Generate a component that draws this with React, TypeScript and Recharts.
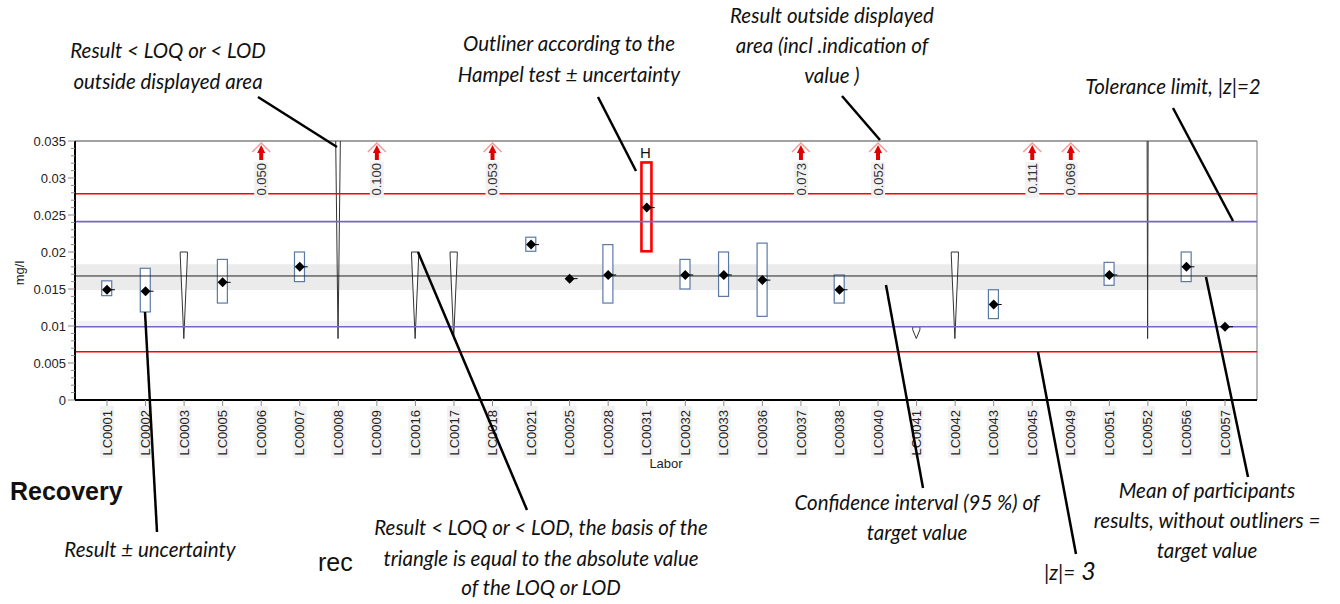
import React from 'react';
import {
  ComposedChart,
  XAxis,
  YAxis,
  Bar,
  Scatter,
  ReferenceLine,
  ReferenceArea,
} from 'recharts';

// ---------- data ----------
const categories = [
  'LC0001', 'LC0002', 'LC0003', 'LC0005', 'LC0006', 'LC0007', 'LC0008', 'LC0009',
  'LC0016', 'LC0017', 'LC0018', 'LC0021', 'LC0025', 'LC0028', 'LC0031', 'LC0032',
  'LC0033', 'LC0036', 'LC0037', 'LC0038', 'LC0040', 'LC0041', 'LC0042', 'LC0043',
  'LC0045', 'LC0049', 'LC0051', 'LC0052', 'LC0056', 'LC0057',
];

// results (diamonds) with uncertainty (boxes)
const resultLabs = [
  'LC0001', 'LC0002', 'LC0005', 'LC0007', 'LC0021', 'LC0025', 'LC0028', 'LC0031',
  'LC0032', 'LC0033', 'LC0036', 'LC0038', 'LC0043', 'LC0051', 'LC0056', 'LC0057',
];
const resultValues = [
  0.0149, 0.0147, 0.0159, 0.0180, 0.0210, 0.0164, 0.0169, 0.0260,
  0.0169, 0.0169, 0.0162, 0.0149, 0.0129, 0.0169, 0.0180, 0.0099,
];
const uncertaintyLow = [
  0.0141, 0.0119, 0.0131, 0.0160, 0.0201, null, 0.0131, 0.0201,
  0.0150, 0.0140, 0.0113, 0.0131, 0.0110, 0.0155, 0.0160, null,
];
const uncertaintyHigh = [
  0.0161, 0.0178, 0.0190, 0.0200, 0.0220, null, 0.0210, 0.0321,
  0.0190, 0.0200, 0.0212, 0.0169, 0.0149, 0.0186, 0.0200, null,
];
const outlierLabs = ['LC0031'];

// results < LOQ / LOD (triangles)
const loqLabs = ['LC0003', 'LC0008', 'LC0016', 'LC0017', 'LC0041', 'LC0042', 'LC0052'];
const loqValues = [0.0200, 0.0500, 0.0200, 0.0200, 0.0099, 0.0200, 0.2000];
const LOQ_TIP = 0.0083;

// results outside displayed area (arrows)
const overLabs = ['LC0006', 'LC0009', 'LC0018', 'LC0037', 'LC0040', 'LC0045', 'LC0049'];
const overValues = [0.050, 0.100, 0.053, 0.073, 0.052, 0.111, 0.069];

// target value and limits
const TARGET = 0.01676;
const CI_LOW = 0.01486;
const CI_HIGH = 0.01834;
const TOL_LOW = 0.0099;
const TOL_HIGH = 0.0241;
const Z3_LOW = 0.00653;
const Z3_HIGH = 0.02788;

// axis
const Y_MAX = 0.035;
const yMajorTicks = [0, 0.005, 0.01, 0.015, 0.02, 0.025, 0.03, 0.035];
const yMajorLabels = ['0', '0.005', '0.01', '0.015', '0.02', '0.025', '0.03', '0.035'];
const Y_MINOR_STEP = 0.001;
const yTicks = Array.from({ length: Math.round(Y_MAX / Y_MINOR_STEP) + 1 }, (_, i) =>
  Number((i * Y_MINOR_STEP).toFixed(4))
);
const X_PAD = 0.83;
const X_DOMAIN = [-X_PAD, categories.length - 1 + X_PAD];
const xTicks = categories.map((_, i) => i);

// ---------- derived tables ----------
const rows = categories.map((lab, idx) => {
  const li = loqLabs.indexOf(lab);
  const ri = resultLabs.indexOf(lab);
  if (li >= 0) return { idx, lab, kind: 'loq', range: [LOQ_TIP, loqValues[li]] };
  if (ri >= 0 && uncertaintyLow[ri] != null) {
    return {
      idx,
      lab,
      kind: outlierLabs.includes(lab) ? 'outlier' : 'box',
      range: [uncertaintyLow[ri], uncertaintyHigh[ri]],
    };
  }
  return { idx, lab, kind: 'none', range: null };
});

const pointData = resultLabs.map((lab, i) => ({ idx: categories.indexOf(lab), v: resultValues[i] }));
const arrowData = overLabs.map((lab, i) => ({
  idx: categories.indexOf(lab),
  v: Y_MAX,
  label: overValues[i].toFixed(3),
}));

// ---------- layout ----------
const W = 1340;
const H = 604;
const PLOT = { left: 75, top: 141, right: 1257, bottom: 400 };
const FONT = "'Liberation Sans', Arial, Helvetica, sans-serif";
const NOTE_FONT = "Lato, 'Open Sans', sans-serif";
const NOTE_SIZE = 20.5;

// ---------- renderers ----------
const YTick = (props: any) => {
  const { y, payload } = props;
  const v = payload.value;
  const mi = yMajorTicks.findIndex((t) => Math.abs(t - v) < 1e-7);
  const major = mi >= 0;
  return (
    <g>
      <line x1={PLOT.left - (major ? 7 : 4)} x2={PLOT.left} y1={y} y2={y} stroke="#8a8a8a" strokeWidth={1} />
      {major && (
        <text x={PLOT.left - 9} y={y} dy={4.6} textAnchor="end" fontSize={13} fill="#222" fontFamily={FONT}>
          {yMajorLabels[mi]}
        </text>
      )}
    </g>
  );
};

const XTick = (props: any) => {
  const { x, payload } = props;
  const name = categories[payload.value];
  return (
    <g>
      <line x1={x} x2={x} y1={PLOT.bottom} y2={PLOT.bottom + 6} stroke="#8a8a8a" />
      <rect x={x - 7} y={PLOT.bottom + 6} width={14} height={52} fill="#f2f2f2" />
      <text
        transform={`translate(${x + 4.6},${PLOT.bottom + 10}) rotate(-90)`}
        textAnchor="end"
        fontSize={13}
        fill="#222"
        fontFamily={FONT}
      >
        {name}
      </text>
    </g>
  );
};

const RangeShape = (props: any) => {
  const { x, y, width, height, payload } = props;
  if (!payload || !payload.range || height == null) return <g />;
  const cx = x + width / 2;
  if (payload.kind === 'loq') {
    const hw = 3.6;
    const pts = `${cx - hw},${y} ${cx + hw},${y} ${cx + hw},${y + 3} ${cx},${y + height} ${cx - hw},${y + 3}`;
    return <polygon points={pts} fill="#fff" stroke="#333" strokeWidth={1} />;
  }
  if (payload.kind === 'outlier') {
    return (
      <g>
        <rect x={cx - 5} y={y} width={10} height={height} fill="#fff" stroke="#ff0000" strokeWidth={2.6} />
        <text x={cx - 1} y={y - 4} textAnchor="middle" fontSize={15} fill="#111" fontFamily={FONT}>
          H
        </text>
      </g>
    );
  }
  return <rect x={cx - 5} y={y} width={10} height={height} fill="#fff" stroke="#5a7aa6" strokeWidth={1.2} />;
};

const Diamond = (props: any) => {
  const { cx, cy } = props;
  if (cx == null || cy == null) return <g />;
  const r = 5;
  return (
    <g>
      <line x1={cx} x2={cx + 8} y1={cy} y2={cy} stroke="#000" strokeWidth={1} />
      <polygon points={`${cx},${cy - r} ${cx + r},${cy} ${cx},${cy + r} ${cx - r},${cy}`} fill="#000" />
    </g>
  );
};

const Arrow = (props: any) => {
  const { cx, cy, payload } = props;
  if (cx == null || cy == null) return <g />;
  return (
    <g>
      <rect x={cx - 7} y={cy + 21} width={14} height={36} fill="#f2f2f2" />
      <polyline
        points={`${cx - 9},${cy + 11} ${cx},${cy + 2} ${cx + 9},${cy + 11}`}
        fill="none"
        stroke="#f29b9b"
        strokeWidth={1.5}
      />
      <polygon
        points={`${cx},${cy + 4} ${cx + 4},${cy + 12} ${cx + 2},${cy + 12} ${cx + 2},${cy + 19} ${cx - 2},${cy + 19} ${cx - 2},${cy + 12} ${cx - 4},${cy + 12}`}
        fill="#e00000"
      />
      <text
        transform={`translate(${cx + 4.6},${cy + 22}) rotate(-90)`}
        textAnchor="end"
        fontSize={13}
        fill="#333"
        fontFamily={FONT}
      >
        {payload.label}
      </text>
    </g>
  );
};

// ---------- annotations ----------
type Note = { x: number; lines: string[]; y: number[] };
const notes: Note[] = [
  { x: 168, lines: ['Result < LOQ or < LOD', 'outside displayed area'], y: [58, 89] },
  { x: 569, lines: ['Outliner according to the', 'Hampel test \u00b1 uncertainty'], y: [51, 82] },
  { x: 832, lines: ['Result outside displayed', 'area (incl .indication of', 'value )'], y: [23, 53, 83] },
  { x: 1173, lines: ['Tolerance limit,  |z|=2'], y: [94] },
  { x: 150, lines: ['Result  \u00b1 uncertainty'], y: [557] },
  {
    x: 541,
    lines: ['Result < LOQ or < LOD, the basis of the', 'triangle is equal to the absolute value', 'of the LOQ or LOD'],
    y: [535, 566, 595],
  },
  { x: 917, lines: ['Confidence interval (95 %) of', 'target value'], y: [510, 540] },
  { x: 1207, lines: ['Mean of participants', 'results, without outliners =', 'target value'], y: [498, 528, 558] },
];
const leaders = [
  [258, 97, 337, 147],
  [598, 97, 636, 171],
  [842, 96, 880, 140],
  [1173, 108, 1233, 221],
  [145, 312, 157, 532],
  [418, 252, 527, 510],
  [886, 285, 923, 488],
  [1038, 352, 1076, 554],
  [1206, 277, 1248, 477],
];

export default function App() {
  return (
    <div style={{ position: 'absolute', left: 0, top: 0, width: W, height: H, background: '#fff' }}>
      <ComposedChart
        width={W}
        height={H}
        data={rows}
        margin={{ top: PLOT.top, right: W - PLOT.right, left: 0, bottom: 0 }}
      >
        <XAxis
          dataKey="idx"
          type="number"
          domain={X_DOMAIN}
          ticks={xTicks}
          interval={0}
          height={H - PLOT.bottom}
          tick={<XTick />}
          tickLine={false}
          axisLine={{ stroke: '#000', strokeWidth: 2 }}
          allowDataOverflow
        />
        <YAxis
          type="number"
          domain={[0, Y_MAX]}
          ticks={yTicks}
          interval={0}
          width={PLOT.left}
          tick={<YTick />}
          tickLine={false}
          axisLine={{ stroke: '#000', strokeWidth: 2 }}
          allowDataOverflow
        />
        <ReferenceArea y1={CI_LOW} y2={CI_HIGH} fill="#ebebeb" fillOpacity={1} stroke="none" />
        <ReferenceArea y1={TOL_LOW} y2={0.0107} fill="#f3f3f3" fillOpacity={1} stroke="none" />
        <ReferenceLine y={Y_MAX} stroke="#444" strokeWidth={1} />
        <ReferenceLine x={X_DOMAIN[1]} stroke="#777" strokeWidth={1} />
        <ReferenceLine y={Z3_HIGH} stroke="#ff0000" strokeWidth={1.4} />
        <ReferenceLine y={Z3_LOW} stroke="#ff0000" strokeWidth={1.4} />
        <ReferenceLine y={TOL_HIGH} stroke="#7466cc" strokeWidth={1.6} />
        <ReferenceLine y={TOL_LOW} stroke="#7466cc" strokeWidth={1.6} />
        <ReferenceLine y={TARGET} stroke="#222" strokeWidth={1} />
        <Bar dataKey="range" barSize={10} shape={RangeShape} isAnimationActive={false} />
        <Scatter data={pointData} dataKey="v" shape={Diamond} isAnimationActive={false} />
        <Scatter data={arrowData} dataKey="v" shape={Arrow} isAnimationActive={false} />
      </ComposedChart>
      <svg
        width={W}
        height={H}
        style={{ position: 'absolute', left: 0, top: 0, pointerEvents: 'none' }}
      >
        <text
          transform="translate(24,273) rotate(-90)"
          textAnchor="middle"
          fontSize={13}
          fill="#222"
          fontFamily={FONT}
        >
          mg/l
        </text>
        <text x={666} y={468} textAnchor="middle" fontSize={13} fill="#222" fontFamily={FONT}>
          Labor
        </text>
        <text x={10} y={500} fontSize={25} fontWeight="bold" fill="#111" fontFamily={FONT}>
          Recovery
        </text>
        <text x={318} y={571} fontSize={25} fill="#111" fontFamily={FONT}>
          rec
        </text>
        {leaders.map(([x1, y1, x2, y2], i) => (
          <line key={i} x1={x1} y1={y1} x2={x2} y2={y2} stroke="#000" strokeWidth={2.5} />
        ))}
        {notes.map((n, i) =>
          n.lines.map((t, j) => (
            <text
              key={`${i}-${j}`}
              x={n.x}
              y={n.y[j]}
              textAnchor="middle"
              fontSize={NOTE_SIZE}
              fontStyle="italic"
              fill="#111"
              fontFamily={NOTE_FONT}
            >
              {t}
            </text>
          ))
        )}
        <text x={1044} y={580} fontStyle="italic" fill="#111" fontFamily={NOTE_FONT} fontSize={NOTE_SIZE}>
          |z|=
          <tspan fontSize={25} dx={6}>
            3
          </tspan>
        </text>
      </svg>
    </div>
  );
}
